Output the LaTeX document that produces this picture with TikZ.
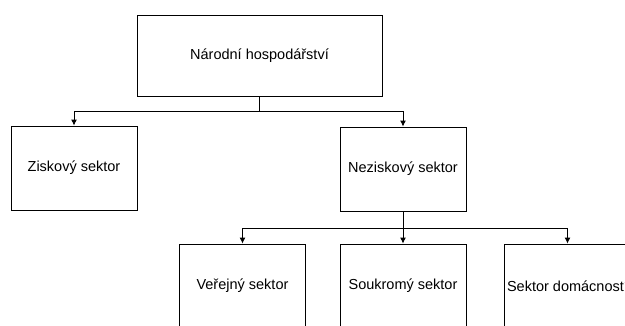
\documentclass[tikz,border=0pt]{standalone}
\usepackage{fontspec}
\setmainfont{Liberation Sans}
\usetikzlibrary{arrows.meta}

\begin{document}
\begin{tikzpicture}[x=1pt,y=-1pt,
		box/.style={draw=black, line width=0.9pt, inner sep=0pt, minimum width=126pt, minimum height=84pt, font=\fontsize{14.5}{16}\selectfont},
		conn/.style={draw=black, line width=0.9pt, -{Latex[length=6pt,width=6pt]}}]
		\useasboundingbox (0,0) rectangle (625,325);
		\clip (0,0) rectangle (625,325);
		%\fill[white] (0,0) rectangle (625,325);
		\node[box, minimum width=245pt, minimum height=81pt] (nh) at (259.5,55.5) {Národní hospodářství};
		\node[box] (zisk) at (74,168) {Ziskový sektor};
		\node[box] (nezisk) at (403,169) {Neziskový sektor};
		\node[box] (verejny) at (242.5,286) {Veřejný sektor};
		\node[box] (soukromy) at (403,286) {Soukromý sektor};
		\node[box] (domacnosti) at (567.5,286) {Sektor domácností};
		
		\coordinate (split1) at (0,111);
		\coordinate (split2) at (0,228);
		\draw[conn] (nh.south) -- (nh.south |- split1) -| (zisk.north);
		\draw[conn] (nh.south) -- (nh.south |- split1) -| (nezisk.north);
		\draw[conn] (nezisk.south) -- (nezisk.south |- split2) -| (verejny.north);
		\draw[conn] (nezisk.south) -- (soukromy.north);
		\draw[conn] (nezisk.south) -- (nezisk.south |- split2) -| (domacnosti.north);
	\end{tikzpicture}
\end{document}
